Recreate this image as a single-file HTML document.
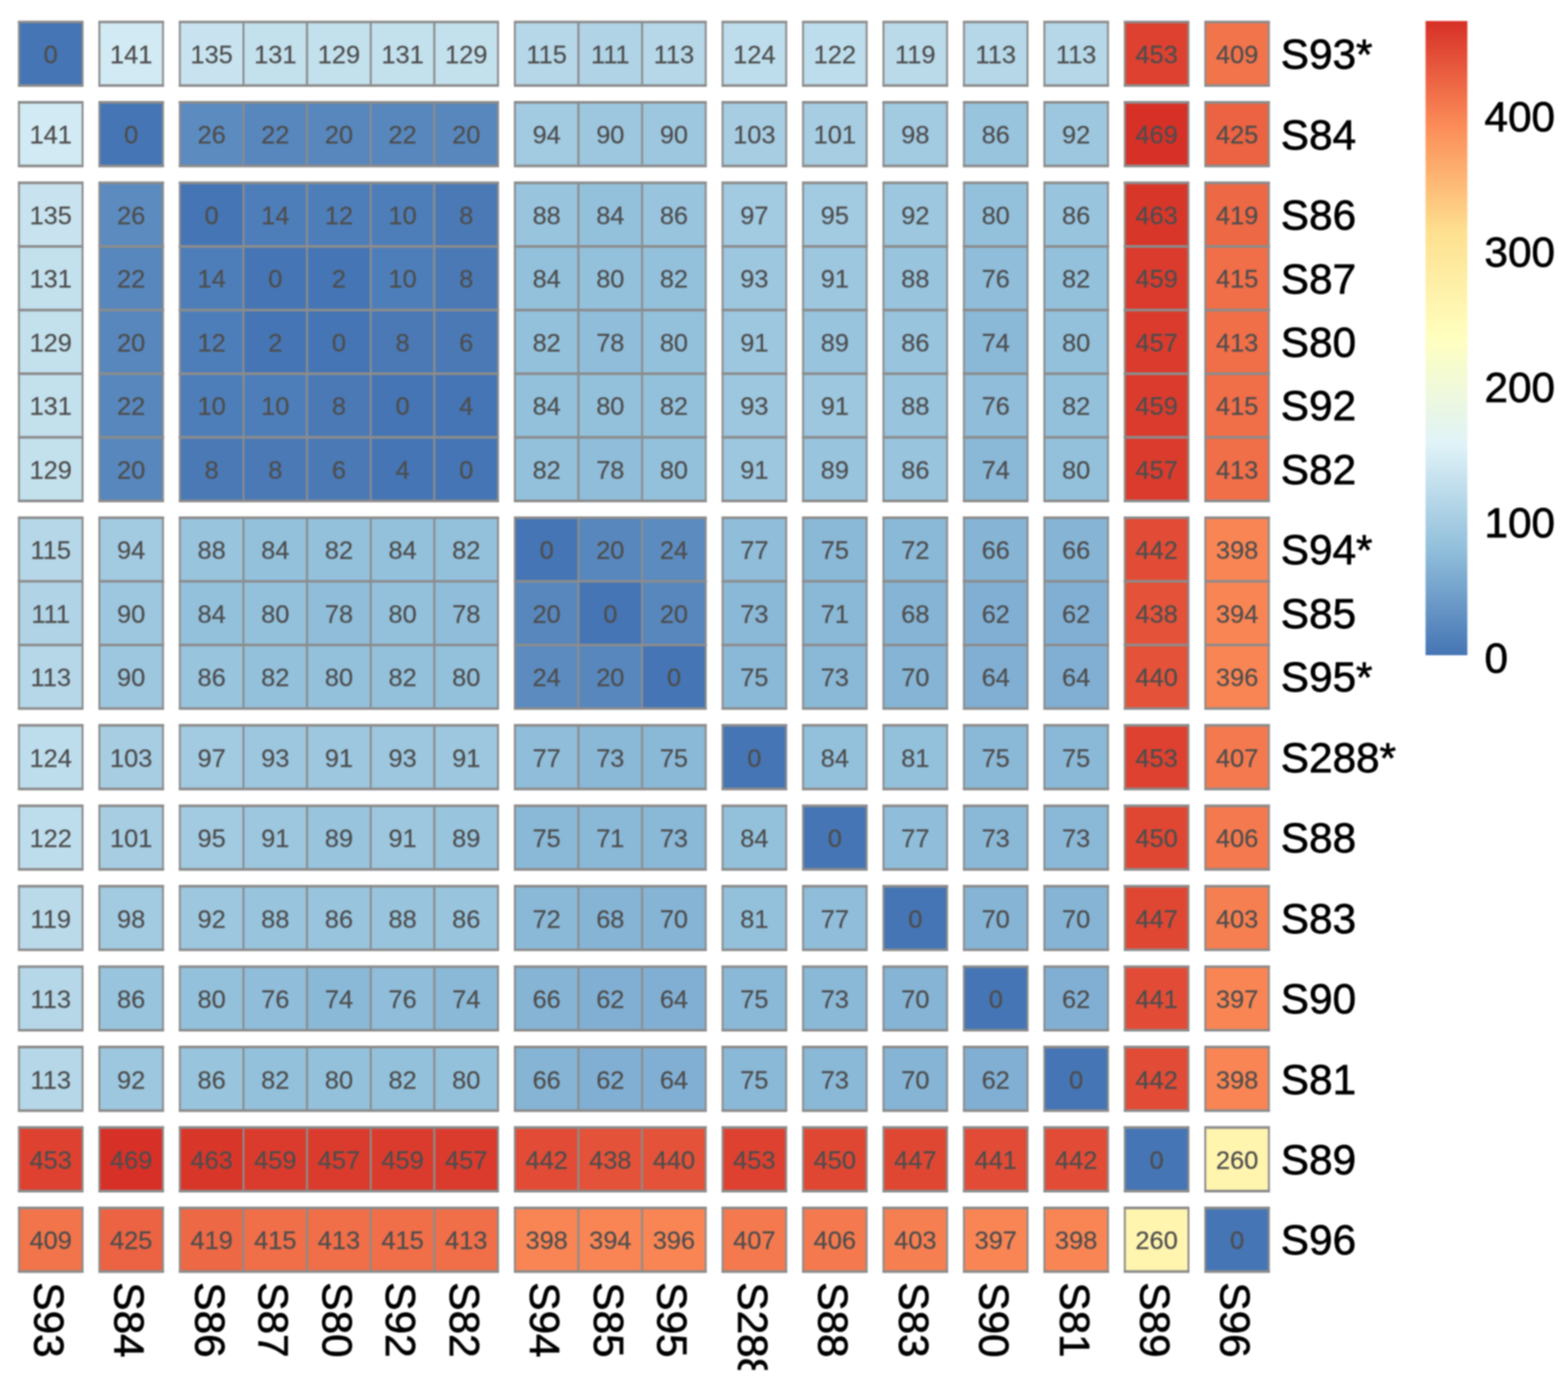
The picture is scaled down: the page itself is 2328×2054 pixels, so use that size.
<!DOCTYPE html>
<html lang="en"><head><meta charset="utf-8"><title>Heatmap</title>
<style>
html,body{margin:0;padding:0;background:#fff;}
body{width:2328px;height:2054px;overflow:hidden;}
svg{display:block;filter:blur(1px);}
text{font-family:"Liberation Sans",Arial,Helvetica,sans-serif;}
.n{font-size:37.7px;fill:#4d4d4d;stroke:#4d4d4d;stroke-width:0.3px;text-anchor:middle;}
.l{font-size:62.8px;fill:#000;stroke:#000;stroke-width:1px;}
.c rect{stroke:#8c8c8c;stroke-width:2.9;}
.h path{stroke:#8c8c8c;stroke-width:3.9;fill:none;}
</style></head>
<body>
<svg width="2328" height="2054" viewBox="0 0 2328 2054">
<defs><linearGradient id="lg" x1="0" y1="0" x2="0" y2="1"><stop offset="0.0000" stop-color="#D73027"/><stop offset="0.1667" stop-color="#FC8D59"/><stop offset="0.3333" stop-color="#FEE090"/><stop offset="0.5000" stop-color="#FFFFBF"/><stop offset="0.6667" stop-color="#E0F3F8"/><stop offset="0.8333" stop-color="#91BFDB"/><stop offset="1.0000" stop-color="#4575B4"/></linearGradient><clipPath id="cl"><rect x="0" y="1890" width="2328" height="144.6"/></clipPath></defs>
<rect x="0" y="0" width="2328" height="2054" fill="#fff"/>
<g class="c">
<rect x="28.10" y="32.60" width="94.49" height="94.49" fill="#4575b4"/><rect x="147.54" y="32.60" width="94.49" height="94.49" fill="#d2eaf3"/><rect x="266.98" y="32.60" width="94.49" height="94.49" fill="#c8e3ef"/><rect x="361.47" y="32.60" width="94.49" height="94.49" fill="#c3e0ed"/><rect x="455.96" y="32.60" width="94.49" height="94.49" fill="#c3e0ed"/><rect x="550.45" y="32.60" width="94.49" height="94.49" fill="#c3e0ed"/><rect x="644.94" y="32.60" width="94.49" height="94.49" fill="#c3e0ed"/><rect x="764.38" y="32.60" width="94.49" height="94.49" fill="#b5d7e8"/><rect x="858.87" y="32.60" width="94.49" height="94.49" fill="#b0d3e6"/><rect x="953.36" y="32.60" width="94.49" height="94.49" fill="#b5d7e8"/><rect x="1072.80" y="32.60" width="94.49" height="94.49" fill="#beddec"/><rect x="1192.24" y="32.60" width="94.49" height="94.49" fill="#beddec"/><rect x="1311.68" y="32.60" width="94.49" height="94.49" fill="#badaea"/><rect x="1431.12" y="32.60" width="94.49" height="94.49" fill="#b5d7e8"/><rect x="1550.56" y="32.60" width="94.49" height="94.49" fill="#b5d7e8"/><rect x="1670.00" y="32.60" width="94.49" height="94.49" fill="#de4130"/><rect x="1789.44" y="32.60" width="94.49" height="94.49" fill="#f2744b"/>
<rect x="28.10" y="152.04" width="94.49" height="94.49" fill="#d2eaf3"/><rect x="147.54" y="152.04" width="94.49" height="94.49" fill="#4575b4"/><rect x="266.98" y="152.04" width="94.49" height="94.49" fill="#5c8bc0"/><rect x="361.47" y="152.04" width="94.49" height="94.49" fill="#5787bd"/><rect x="455.96" y="152.04" width="94.49" height="94.49" fill="#5787bd"/><rect x="550.45" y="152.04" width="94.49" height="94.49" fill="#5787bd"/><rect x="644.94" y="152.04" width="94.49" height="94.49" fill="#5787bd"/><rect x="764.38" y="152.04" width="94.49" height="94.49" fill="#a2cae1"/><rect x="858.87" y="152.04" width="94.49" height="94.49" fill="#9dc7df"/><rect x="953.36" y="152.04" width="94.49" height="94.49" fill="#9dc7df"/><rect x="1072.80" y="152.04" width="94.49" height="94.49" fill="#a7cde3"/><rect x="1192.24" y="152.04" width="94.49" height="94.49" fill="#a7cde3"/><rect x="1311.68" y="152.04" width="94.49" height="94.49" fill="#a2cae1"/><rect x="1431.12" y="152.04" width="94.49" height="94.49" fill="#98c4de"/><rect x="1550.56" y="152.04" width="94.49" height="94.49" fill="#9dc7df"/><rect x="1670.00" y="152.04" width="94.49" height="94.49" fill="#d73027"/><rect x="1789.44" y="152.04" width="94.49" height="94.49" fill="#eb6342"/>
<rect x="28.10" y="271.48" width="94.49" height="94.49" fill="#c8e3ef"/><rect x="147.54" y="271.48" width="94.49" height="94.49" fill="#5c8bc0"/><rect x="266.98" y="271.48" width="94.49" height="94.49" fill="#4575b4"/><rect x="361.47" y="271.48" width="94.49" height="94.49" fill="#4e7eb9"/><rect x="455.96" y="271.48" width="94.49" height="94.49" fill="#4e7eb9"/><rect x="550.45" y="271.48" width="94.49" height="94.49" fill="#4e7eb9"/><rect x="644.94" y="271.48" width="94.49" height="94.49" fill="#4a79b6"/><rect x="764.38" y="271.48" width="94.49" height="94.49" fill="#98c4de"/><rect x="858.87" y="271.48" width="94.49" height="94.49" fill="#93c1dc"/><rect x="953.36" y="271.48" width="94.49" height="94.49" fill="#98c4de"/><rect x="1072.80" y="271.48" width="94.49" height="94.49" fill="#a2cae1"/><rect x="1192.24" y="271.48" width="94.49" height="94.49" fill="#a2cae1"/><rect x="1311.68" y="271.48" width="94.49" height="94.49" fill="#9dc7df"/><rect x="1431.12" y="271.48" width="94.49" height="94.49" fill="#93c1dc"/><rect x="1550.56" y="271.48" width="94.49" height="94.49" fill="#98c4de"/><rect x="1670.00" y="271.48" width="94.49" height="94.49" fill="#d9362a"/><rect x="1789.44" y="271.48" width="94.49" height="94.49" fill="#ed6845"/>
<rect x="28.10" y="365.97" width="94.49" height="94.49" fill="#c3e0ed"/><rect x="147.54" y="365.97" width="94.49" height="94.49" fill="#5787bd"/><rect x="266.98" y="365.97" width="94.49" height="94.49" fill="#4e7eb9"/><rect x="361.47" y="365.97" width="94.49" height="94.49" fill="#4575b4"/><rect x="455.96" y="365.97" width="94.49" height="94.49" fill="#4575b4"/><rect x="550.45" y="365.97" width="94.49" height="94.49" fill="#4e7eb9"/><rect x="644.94" y="365.97" width="94.49" height="94.49" fill="#4a79b6"/><rect x="764.38" y="365.97" width="94.49" height="94.49" fill="#93c1dc"/><rect x="858.87" y="365.97" width="94.49" height="94.49" fill="#93c1dc"/><rect x="953.36" y="365.97" width="94.49" height="94.49" fill="#93c1dc"/><rect x="1072.80" y="365.97" width="94.49" height="94.49" fill="#9dc7df"/><rect x="1192.24" y="365.97" width="94.49" height="94.49" fill="#9dc7df"/><rect x="1311.68" y="365.97" width="94.49" height="94.49" fill="#98c4de"/><rect x="1431.12" y="365.97" width="94.49" height="94.49" fill="#8fbdda"/><rect x="1550.56" y="365.97" width="94.49" height="94.49" fill="#93c1dc"/><rect x="1670.00" y="365.97" width="94.49" height="94.49" fill="#db3b2d"/><rect x="1789.44" y="365.97" width="94.49" height="94.49" fill="#f06e48"/>
<rect x="28.10" y="460.46" width="94.49" height="94.49" fill="#c3e0ed"/><rect x="147.54" y="460.46" width="94.49" height="94.49" fill="#5787bd"/><rect x="266.98" y="460.46" width="94.49" height="94.49" fill="#4e7eb9"/><rect x="361.47" y="460.46" width="94.49" height="94.49" fill="#4575b4"/><rect x="455.96" y="460.46" width="94.49" height="94.49" fill="#4575b4"/><rect x="550.45" y="460.46" width="94.49" height="94.49" fill="#4a79b6"/><rect x="644.94" y="460.46" width="94.49" height="94.49" fill="#4a79b6"/><rect x="764.38" y="460.46" width="94.49" height="94.49" fill="#93c1dc"/><rect x="858.87" y="460.46" width="94.49" height="94.49" fill="#8fbdda"/><rect x="953.36" y="460.46" width="94.49" height="94.49" fill="#93c1dc"/><rect x="1072.80" y="460.46" width="94.49" height="94.49" fill="#9dc7df"/><rect x="1192.24" y="460.46" width="94.49" height="94.49" fill="#98c4de"/><rect x="1311.68" y="460.46" width="94.49" height="94.49" fill="#98c4de"/><rect x="1431.12" y="460.46" width="94.49" height="94.49" fill="#8ab8d7"/><rect x="1550.56" y="460.46" width="94.49" height="94.49" fill="#93c1dc"/><rect x="1670.00" y="460.46" width="94.49" height="94.49" fill="#db3b2d"/><rect x="1789.44" y="460.46" width="94.49" height="94.49" fill="#f06e48"/>
<rect x="28.10" y="554.95" width="94.49" height="94.49" fill="#c3e0ed"/><rect x="147.54" y="554.95" width="94.49" height="94.49" fill="#5787bd"/><rect x="266.98" y="554.95" width="94.49" height="94.49" fill="#4e7eb9"/><rect x="361.47" y="554.95" width="94.49" height="94.49" fill="#4e7eb9"/><rect x="455.96" y="554.95" width="94.49" height="94.49" fill="#4a79b6"/><rect x="550.45" y="554.95" width="94.49" height="94.49" fill="#4575b4"/><rect x="644.94" y="554.95" width="94.49" height="94.49" fill="#4575b4"/><rect x="764.38" y="554.95" width="94.49" height="94.49" fill="#93c1dc"/><rect x="858.87" y="554.95" width="94.49" height="94.49" fill="#93c1dc"/><rect x="953.36" y="554.95" width="94.49" height="94.49" fill="#93c1dc"/><rect x="1072.80" y="554.95" width="94.49" height="94.49" fill="#9dc7df"/><rect x="1192.24" y="554.95" width="94.49" height="94.49" fill="#9dc7df"/><rect x="1311.68" y="554.95" width="94.49" height="94.49" fill="#98c4de"/><rect x="1431.12" y="554.95" width="94.49" height="94.49" fill="#8fbdda"/><rect x="1550.56" y="554.95" width="94.49" height="94.49" fill="#93c1dc"/><rect x="1670.00" y="554.95" width="94.49" height="94.49" fill="#db3b2d"/><rect x="1789.44" y="554.95" width="94.49" height="94.49" fill="#f06e48"/>
<rect x="28.10" y="649.44" width="94.49" height="94.49" fill="#c3e0ed"/><rect x="147.54" y="649.44" width="94.49" height="94.49" fill="#5787bd"/><rect x="266.98" y="649.44" width="94.49" height="94.49" fill="#4a79b6"/><rect x="361.47" y="649.44" width="94.49" height="94.49" fill="#4a79b6"/><rect x="455.96" y="649.44" width="94.49" height="94.49" fill="#4a79b6"/><rect x="550.45" y="649.44" width="94.49" height="94.49" fill="#4575b4"/><rect x="644.94" y="649.44" width="94.49" height="94.49" fill="#4575b4"/><rect x="764.38" y="649.44" width="94.49" height="94.49" fill="#93c1dc"/><rect x="858.87" y="649.44" width="94.49" height="94.49" fill="#8fbdda"/><rect x="953.36" y="649.44" width="94.49" height="94.49" fill="#93c1dc"/><rect x="1072.80" y="649.44" width="94.49" height="94.49" fill="#9dc7df"/><rect x="1192.24" y="649.44" width="94.49" height="94.49" fill="#98c4de"/><rect x="1311.68" y="649.44" width="94.49" height="94.49" fill="#98c4de"/><rect x="1431.12" y="649.44" width="94.49" height="94.49" fill="#8ab8d7"/><rect x="1550.56" y="649.44" width="94.49" height="94.49" fill="#93c1dc"/><rect x="1670.00" y="649.44" width="94.49" height="94.49" fill="#db3b2d"/><rect x="1789.44" y="649.44" width="94.49" height="94.49" fill="#f06e48"/>
<rect x="28.10" y="768.88" width="94.49" height="94.49" fill="#b5d7e8"/><rect x="147.54" y="768.88" width="94.49" height="94.49" fill="#a2cae1"/><rect x="266.98" y="768.88" width="94.49" height="94.49" fill="#98c4de"/><rect x="361.47" y="768.88" width="94.49" height="94.49" fill="#93c1dc"/><rect x="455.96" y="768.88" width="94.49" height="94.49" fill="#93c1dc"/><rect x="550.45" y="768.88" width="94.49" height="94.49" fill="#93c1dc"/><rect x="644.94" y="768.88" width="94.49" height="94.49" fill="#93c1dc"/><rect x="764.38" y="768.88" width="94.49" height="94.49" fill="#4575b4"/><rect x="858.87" y="768.88" width="94.49" height="94.49" fill="#5787bd"/><rect x="953.36" y="768.88" width="94.49" height="94.49" fill="#5c8bc0"/><rect x="1072.80" y="768.88" width="94.49" height="94.49" fill="#8fbdda"/><rect x="1192.24" y="768.88" width="94.49" height="94.49" fill="#8ab8d7"/><rect x="1311.68" y="768.88" width="94.49" height="94.49" fill="#8ab8d7"/><rect x="1431.12" y="768.88" width="94.49" height="94.49" fill="#85b4d5"/><rect x="1550.56" y="768.88" width="94.49" height="94.49" fill="#85b4d5"/><rect x="1670.00" y="768.88" width="94.49" height="94.49" fill="#e24c36"/><rect x="1789.44" y="768.88" width="94.49" height="94.49" fill="#f98554"/>
<rect x="28.10" y="863.37" width="94.49" height="94.49" fill="#b0d3e6"/><rect x="147.54" y="863.37" width="94.49" height="94.49" fill="#9dc7df"/><rect x="266.98" y="863.37" width="94.49" height="94.49" fill="#93c1dc"/><rect x="361.47" y="863.37" width="94.49" height="94.49" fill="#93c1dc"/><rect x="455.96" y="863.37" width="94.49" height="94.49" fill="#8fbdda"/><rect x="550.45" y="863.37" width="94.49" height="94.49" fill="#93c1dc"/><rect x="644.94" y="863.37" width="94.49" height="94.49" fill="#8fbdda"/><rect x="764.38" y="863.37" width="94.49" height="94.49" fill="#5787bd"/><rect x="858.87" y="863.37" width="94.49" height="94.49" fill="#4575b4"/><rect x="953.36" y="863.37" width="94.49" height="94.49" fill="#5787bd"/><rect x="1072.80" y="863.37" width="94.49" height="94.49" fill="#8ab8d7"/><rect x="1192.24" y="863.37" width="94.49" height="94.49" fill="#8ab8d7"/><rect x="1311.68" y="863.37" width="94.49" height="94.49" fill="#85b4d5"/><rect x="1431.12" y="863.37" width="94.49" height="94.49" fill="#81afd3"/><rect x="1550.56" y="863.37" width="94.49" height="94.49" fill="#81afd3"/><rect x="1670.00" y="863.37" width="94.49" height="94.49" fill="#e45239"/><rect x="1789.44" y="863.37" width="94.49" height="94.49" fill="#f98554"/>
<rect x="28.10" y="957.86" width="94.49" height="94.49" fill="#b5d7e8"/><rect x="147.54" y="957.86" width="94.49" height="94.49" fill="#9dc7df"/><rect x="266.98" y="957.86" width="94.49" height="94.49" fill="#98c4de"/><rect x="361.47" y="957.86" width="94.49" height="94.49" fill="#93c1dc"/><rect x="455.96" y="957.86" width="94.49" height="94.49" fill="#93c1dc"/><rect x="550.45" y="957.86" width="94.49" height="94.49" fill="#93c1dc"/><rect x="644.94" y="957.86" width="94.49" height="94.49" fill="#93c1dc"/><rect x="764.38" y="957.86" width="94.49" height="94.49" fill="#5c8bc0"/><rect x="858.87" y="957.86" width="94.49" height="94.49" fill="#5787bd"/><rect x="953.36" y="957.86" width="94.49" height="94.49" fill="#4575b4"/><rect x="1072.80" y="957.86" width="94.49" height="94.49" fill="#8ab8d7"/><rect x="1192.24" y="957.86" width="94.49" height="94.49" fill="#8ab8d7"/><rect x="1311.68" y="957.86" width="94.49" height="94.49" fill="#85b4d5"/><rect x="1431.12" y="957.86" width="94.49" height="94.49" fill="#81afd3"/><rect x="1550.56" y="957.86" width="94.49" height="94.49" fill="#81afd3"/><rect x="1670.00" y="957.86" width="94.49" height="94.49" fill="#e45239"/><rect x="1789.44" y="957.86" width="94.49" height="94.49" fill="#f98554"/>
<rect x="28.10" y="1077.30" width="94.49" height="94.49" fill="#beddec"/><rect x="147.54" y="1077.30" width="94.49" height="94.49" fill="#a7cde3"/><rect x="266.98" y="1077.30" width="94.49" height="94.49" fill="#a2cae1"/><rect x="361.47" y="1077.30" width="94.49" height="94.49" fill="#9dc7df"/><rect x="455.96" y="1077.30" width="94.49" height="94.49" fill="#9dc7df"/><rect x="550.45" y="1077.30" width="94.49" height="94.49" fill="#9dc7df"/><rect x="644.94" y="1077.30" width="94.49" height="94.49" fill="#9dc7df"/><rect x="764.38" y="1077.30" width="94.49" height="94.49" fill="#8fbdda"/><rect x="858.87" y="1077.30" width="94.49" height="94.49" fill="#8ab8d7"/><rect x="953.36" y="1077.30" width="94.49" height="94.49" fill="#8ab8d7"/><rect x="1072.80" y="1077.30" width="94.49" height="94.49" fill="#4575b4"/><rect x="1192.24" y="1077.30" width="94.49" height="94.49" fill="#93c1dc"/><rect x="1311.68" y="1077.30" width="94.49" height="94.49" fill="#93c1dc"/><rect x="1431.12" y="1077.30" width="94.49" height="94.49" fill="#8ab8d7"/><rect x="1550.56" y="1077.30" width="94.49" height="94.49" fill="#8ab8d7"/><rect x="1670.00" y="1077.30" width="94.49" height="94.49" fill="#de4130"/><rect x="1789.44" y="1077.30" width="94.49" height="94.49" fill="#f4794e"/>
<rect x="28.10" y="1196.74" width="94.49" height="94.49" fill="#beddec"/><rect x="147.54" y="1196.74" width="94.49" height="94.49" fill="#a7cde3"/><rect x="266.98" y="1196.74" width="94.49" height="94.49" fill="#a2cae1"/><rect x="361.47" y="1196.74" width="94.49" height="94.49" fill="#9dc7df"/><rect x="455.96" y="1196.74" width="94.49" height="94.49" fill="#98c4de"/><rect x="550.45" y="1196.74" width="94.49" height="94.49" fill="#9dc7df"/><rect x="644.94" y="1196.74" width="94.49" height="94.49" fill="#98c4de"/><rect x="764.38" y="1196.74" width="94.49" height="94.49" fill="#8ab8d7"/><rect x="858.87" y="1196.74" width="94.49" height="94.49" fill="#8ab8d7"/><rect x="953.36" y="1196.74" width="94.49" height="94.49" fill="#8ab8d7"/><rect x="1072.80" y="1196.74" width="94.49" height="94.49" fill="#93c1dc"/><rect x="1192.24" y="1196.74" width="94.49" height="94.49" fill="#4575b4"/><rect x="1311.68" y="1196.74" width="94.49" height="94.49" fill="#8fbdda"/><rect x="1431.12" y="1196.74" width="94.49" height="94.49" fill="#8ab8d7"/><rect x="1550.56" y="1196.74" width="94.49" height="94.49" fill="#8ab8d7"/><rect x="1670.00" y="1196.74" width="94.49" height="94.49" fill="#e04733"/><rect x="1789.44" y="1196.74" width="94.49" height="94.49" fill="#f4794e"/>
<rect x="28.10" y="1316.18" width="94.49" height="94.49" fill="#badaea"/><rect x="147.54" y="1316.18" width="94.49" height="94.49" fill="#a2cae1"/><rect x="266.98" y="1316.18" width="94.49" height="94.49" fill="#9dc7df"/><rect x="361.47" y="1316.18" width="94.49" height="94.49" fill="#98c4de"/><rect x="455.96" y="1316.18" width="94.49" height="94.49" fill="#98c4de"/><rect x="550.45" y="1316.18" width="94.49" height="94.49" fill="#98c4de"/><rect x="644.94" y="1316.18" width="94.49" height="94.49" fill="#98c4de"/><rect x="764.38" y="1316.18" width="94.49" height="94.49" fill="#8ab8d7"/><rect x="858.87" y="1316.18" width="94.49" height="94.49" fill="#85b4d5"/><rect x="953.36" y="1316.18" width="94.49" height="94.49" fill="#85b4d5"/><rect x="1072.80" y="1316.18" width="94.49" height="94.49" fill="#93c1dc"/><rect x="1192.24" y="1316.18" width="94.49" height="94.49" fill="#8fbdda"/><rect x="1311.68" y="1316.18" width="94.49" height="94.49" fill="#4575b4"/><rect x="1431.12" y="1316.18" width="94.49" height="94.49" fill="#85b4d5"/><rect x="1550.56" y="1316.18" width="94.49" height="94.49" fill="#85b4d5"/><rect x="1670.00" y="1316.18" width="94.49" height="94.49" fill="#e04733"/><rect x="1789.44" y="1316.18" width="94.49" height="94.49" fill="#f67f51"/>
<rect x="28.10" y="1435.62" width="94.49" height="94.49" fill="#b5d7e8"/><rect x="147.54" y="1435.62" width="94.49" height="94.49" fill="#98c4de"/><rect x="266.98" y="1435.62" width="94.49" height="94.49" fill="#93c1dc"/><rect x="361.47" y="1435.62" width="94.49" height="94.49" fill="#8fbdda"/><rect x="455.96" y="1435.62" width="94.49" height="94.49" fill="#8ab8d7"/><rect x="550.45" y="1435.62" width="94.49" height="94.49" fill="#8fbdda"/><rect x="644.94" y="1435.62" width="94.49" height="94.49" fill="#8ab8d7"/><rect x="764.38" y="1435.62" width="94.49" height="94.49" fill="#85b4d5"/><rect x="858.87" y="1435.62" width="94.49" height="94.49" fill="#81afd3"/><rect x="953.36" y="1435.62" width="94.49" height="94.49" fill="#81afd3"/><rect x="1072.80" y="1435.62" width="94.49" height="94.49" fill="#8ab8d7"/><rect x="1192.24" y="1435.62" width="94.49" height="94.49" fill="#8ab8d7"/><rect x="1311.68" y="1435.62" width="94.49" height="94.49" fill="#85b4d5"/><rect x="1431.12" y="1435.62" width="94.49" height="94.49" fill="#4575b4"/><rect x="1550.56" y="1435.62" width="94.49" height="94.49" fill="#81afd3"/><rect x="1670.00" y="1435.62" width="94.49" height="94.49" fill="#e24c36"/><rect x="1789.44" y="1435.62" width="94.49" height="94.49" fill="#f98554"/>
<rect x="28.10" y="1555.06" width="94.49" height="94.49" fill="#b5d7e8"/><rect x="147.54" y="1555.06" width="94.49" height="94.49" fill="#9dc7df"/><rect x="266.98" y="1555.06" width="94.49" height="94.49" fill="#98c4de"/><rect x="361.47" y="1555.06" width="94.49" height="94.49" fill="#93c1dc"/><rect x="455.96" y="1555.06" width="94.49" height="94.49" fill="#93c1dc"/><rect x="550.45" y="1555.06" width="94.49" height="94.49" fill="#93c1dc"/><rect x="644.94" y="1555.06" width="94.49" height="94.49" fill="#93c1dc"/><rect x="764.38" y="1555.06" width="94.49" height="94.49" fill="#85b4d5"/><rect x="858.87" y="1555.06" width="94.49" height="94.49" fill="#81afd3"/><rect x="953.36" y="1555.06" width="94.49" height="94.49" fill="#81afd3"/><rect x="1072.80" y="1555.06" width="94.49" height="94.49" fill="#8ab8d7"/><rect x="1192.24" y="1555.06" width="94.49" height="94.49" fill="#8ab8d7"/><rect x="1311.68" y="1555.06" width="94.49" height="94.49" fill="#85b4d5"/><rect x="1431.12" y="1555.06" width="94.49" height="94.49" fill="#81afd3"/><rect x="1550.56" y="1555.06" width="94.49" height="94.49" fill="#4575b4"/><rect x="1670.00" y="1555.06" width="94.49" height="94.49" fill="#e24c36"/><rect x="1789.44" y="1555.06" width="94.49" height="94.49" fill="#f98554"/>
<rect x="28.10" y="1674.50" width="94.49" height="94.49" fill="#de4130"/><rect x="147.54" y="1674.50" width="94.49" height="94.49" fill="#d73027"/><rect x="266.98" y="1674.50" width="94.49" height="94.49" fill="#d9362a"/><rect x="361.47" y="1674.50" width="94.49" height="94.49" fill="#db3b2d"/><rect x="455.96" y="1674.50" width="94.49" height="94.49" fill="#db3b2d"/><rect x="550.45" y="1674.50" width="94.49" height="94.49" fill="#db3b2d"/><rect x="644.94" y="1674.50" width="94.49" height="94.49" fill="#db3b2d"/><rect x="764.38" y="1674.50" width="94.49" height="94.49" fill="#e24c36"/><rect x="858.87" y="1674.50" width="94.49" height="94.49" fill="#e45239"/><rect x="953.36" y="1674.50" width="94.49" height="94.49" fill="#e45239"/><rect x="1072.80" y="1674.50" width="94.49" height="94.49" fill="#de4130"/><rect x="1192.24" y="1674.50" width="94.49" height="94.49" fill="#e04733"/><rect x="1311.68" y="1674.50" width="94.49" height="94.49" fill="#e04733"/><rect x="1431.12" y="1674.50" width="94.49" height="94.49" fill="#e24c36"/><rect x="1550.56" y="1674.50" width="94.49" height="94.49" fill="#e24c36"/><rect x="1670.00" y="1674.50" width="94.49" height="94.49" fill="#4575b4"/><rect x="1789.44" y="1674.50" width="94.49" height="94.49" fill="#fff5af"/>
<rect x="28.10" y="1793.94" width="94.49" height="94.49" fill="#f2744b"/><rect x="147.54" y="1793.94" width="94.49" height="94.49" fill="#eb6342"/><rect x="266.98" y="1793.94" width="94.49" height="94.49" fill="#ed6845"/><rect x="361.47" y="1793.94" width="94.49" height="94.49" fill="#f06e48"/><rect x="455.96" y="1793.94" width="94.49" height="94.49" fill="#f06e48"/><rect x="550.45" y="1793.94" width="94.49" height="94.49" fill="#f06e48"/><rect x="644.94" y="1793.94" width="94.49" height="94.49" fill="#f06e48"/><rect x="764.38" y="1793.94" width="94.49" height="94.49" fill="#f98554"/><rect x="858.87" y="1793.94" width="94.49" height="94.49" fill="#f98554"/><rect x="953.36" y="1793.94" width="94.49" height="94.49" fill="#f98554"/><rect x="1072.80" y="1793.94" width="94.49" height="94.49" fill="#f4794e"/><rect x="1192.24" y="1793.94" width="94.49" height="94.49" fill="#f4794e"/><rect x="1311.68" y="1793.94" width="94.49" height="94.49" fill="#f67f51"/><rect x="1431.12" y="1793.94" width="94.49" height="94.49" fill="#f98554"/><rect x="1550.56" y="1793.94" width="94.49" height="94.49" fill="#f98554"/><rect x="1670.00" y="1793.94" width="94.49" height="94.49" fill="#fff5af"/><rect x="1789.44" y="1793.94" width="94.49" height="94.49" fill="#4575b4"/>
</g>
<g class="h">
<path d="M26.65 32.60H124.04M26.65 127.09H124.04M146.09 32.60H243.48M146.09 127.09H243.48M265.53 32.60H740.88M265.53 127.09H740.88M762.93 32.60H1049.30M762.93 127.09H1049.30M1071.35 32.60H1168.74M1071.35 127.09H1168.74M1190.79 32.60H1288.18M1190.79 127.09H1288.18M1310.23 32.60H1407.62M1310.23 127.09H1407.62M1429.67 32.60H1527.06M1429.67 127.09H1527.06M1549.11 32.60H1646.50M1549.11 127.09H1646.50M1668.55 32.60H1765.94M1668.55 127.09H1765.94M1787.99 32.60H1885.38M1787.99 127.09H1885.38M26.65 152.04H124.04M26.65 246.53H124.04M146.09 152.04H243.48M146.09 246.53H243.48M265.53 152.04H740.88M265.53 246.53H740.88M762.93 152.04H1049.30M762.93 246.53H1049.30M1071.35 152.04H1168.74M1071.35 246.53H1168.74M1190.79 152.04H1288.18M1190.79 246.53H1288.18M1310.23 152.04H1407.62M1310.23 246.53H1407.62M1429.67 152.04H1527.06M1429.67 246.53H1527.06M1549.11 152.04H1646.50M1549.11 246.53H1646.50M1668.55 152.04H1765.94M1668.55 246.53H1765.94M1787.99 152.04H1885.38M1787.99 246.53H1885.38M26.65 271.48H124.04M26.65 365.97H124.04M26.65 460.46H124.04M26.65 554.95H124.04M26.65 649.44H124.04M26.65 743.93H124.04M146.09 271.48H243.48M146.09 365.97H243.48M146.09 460.46H243.48M146.09 554.95H243.48M146.09 649.44H243.48M146.09 743.93H243.48M265.53 271.48H740.88M265.53 365.97H740.88M265.53 460.46H740.88M265.53 554.95H740.88M265.53 649.44H740.88M265.53 743.93H740.88M762.93 271.48H1049.30M762.93 365.97H1049.30M762.93 460.46H1049.30M762.93 554.95H1049.30M762.93 649.44H1049.30M762.93 743.93H1049.30M1071.35 271.48H1168.74M1071.35 365.97H1168.74M1071.35 460.46H1168.74M1071.35 554.95H1168.74M1071.35 649.44H1168.74M1071.35 743.93H1168.74M1190.79 271.48H1288.18M1190.79 365.97H1288.18M1190.79 460.46H1288.18M1190.79 554.95H1288.18M1190.79 649.44H1288.18M1190.79 743.93H1288.18M1310.23 271.48H1407.62M1310.23 365.97H1407.62M1310.23 460.46H1407.62M1310.23 554.95H1407.62M1310.23 649.44H1407.62M1310.23 743.93H1407.62M1429.67 271.48H1527.06M1429.67 365.97H1527.06M1429.67 460.46H1527.06M1429.67 554.95H1527.06M1429.67 649.44H1527.06M1429.67 743.93H1527.06M1549.11 271.48H1646.50M1549.11 365.97H1646.50M1549.11 460.46H1646.50M1549.11 554.95H1646.50M1549.11 649.44H1646.50M1549.11 743.93H1646.50M1668.55 271.48H1765.94M1668.55 365.97H1765.94M1668.55 460.46H1765.94M1668.55 554.95H1765.94M1668.55 649.44H1765.94M1668.55 743.93H1765.94M1787.99 271.48H1885.38M1787.99 365.97H1885.38M1787.99 460.46H1885.38M1787.99 554.95H1885.38M1787.99 649.44H1885.38M1787.99 743.93H1885.38M26.65 768.88H124.04M26.65 863.37H124.04M26.65 957.86H124.04M26.65 1052.35H124.04M146.09 768.88H243.48M146.09 863.37H243.48M146.09 957.86H243.48M146.09 1052.35H243.48M265.53 768.88H740.88M265.53 863.37H740.88M265.53 957.86H740.88M265.53 1052.35H740.88M762.93 768.88H1049.30M762.93 863.37H1049.30M762.93 957.86H1049.30M762.93 1052.35H1049.30M1071.35 768.88H1168.74M1071.35 863.37H1168.74M1071.35 957.86H1168.74M1071.35 1052.35H1168.74M1190.79 768.88H1288.18M1190.79 863.37H1288.18M1190.79 957.86H1288.18M1190.79 1052.35H1288.18M1310.23 768.88H1407.62M1310.23 863.37H1407.62M1310.23 957.86H1407.62M1310.23 1052.35H1407.62M1429.67 768.88H1527.06M1429.67 863.37H1527.06M1429.67 957.86H1527.06M1429.67 1052.35H1527.06M1549.11 768.88H1646.50M1549.11 863.37H1646.50M1549.11 957.86H1646.50M1549.11 1052.35H1646.50M1668.55 768.88H1765.94M1668.55 863.37H1765.94M1668.55 957.86H1765.94M1668.55 1052.35H1765.94M1787.99 768.88H1885.38M1787.99 863.37H1885.38M1787.99 957.86H1885.38M1787.99 1052.35H1885.38M26.65 1077.30H124.04M26.65 1171.79H124.04M146.09 1077.30H243.48M146.09 1171.79H243.48M265.53 1077.30H740.88M265.53 1171.79H740.88M762.93 1077.30H1049.30M762.93 1171.79H1049.30M1071.35 1077.30H1168.74M1071.35 1171.79H1168.74M1190.79 1077.30H1288.18M1190.79 1171.79H1288.18M1310.23 1077.30H1407.62M1310.23 1171.79H1407.62M1429.67 1077.30H1527.06M1429.67 1171.79H1527.06M1549.11 1077.30H1646.50M1549.11 1171.79H1646.50M1668.55 1077.30H1765.94M1668.55 1171.79H1765.94M1787.99 1077.30H1885.38M1787.99 1171.79H1885.38M26.65 1196.74H124.04M26.65 1291.23H124.04M146.09 1196.74H243.48M146.09 1291.23H243.48M265.53 1196.74H740.88M265.53 1291.23H740.88M762.93 1196.74H1049.30M762.93 1291.23H1049.30M1071.35 1196.74H1168.74M1071.35 1291.23H1168.74M1190.79 1196.74H1288.18M1190.79 1291.23H1288.18M1310.23 1196.74H1407.62M1310.23 1291.23H1407.62M1429.67 1196.74H1527.06M1429.67 1291.23H1527.06M1549.11 1196.74H1646.50M1549.11 1291.23H1646.50M1668.55 1196.74H1765.94M1668.55 1291.23H1765.94M1787.99 1196.74H1885.38M1787.99 1291.23H1885.38M26.65 1316.18H124.04M26.65 1410.67H124.04M146.09 1316.18H243.48M146.09 1410.67H243.48M265.53 1316.18H740.88M265.53 1410.67H740.88M762.93 1316.18H1049.30M762.93 1410.67H1049.30M1071.35 1316.18H1168.74M1071.35 1410.67H1168.74M1190.79 1316.18H1288.18M1190.79 1410.67H1288.18M1310.23 1316.18H1407.62M1310.23 1410.67H1407.62M1429.67 1316.18H1527.06M1429.67 1410.67H1527.06M1549.11 1316.18H1646.50M1549.11 1410.67H1646.50M1668.55 1316.18H1765.94M1668.55 1410.67H1765.94M1787.99 1316.18H1885.38M1787.99 1410.67H1885.38M26.65 1435.62H124.04M26.65 1530.11H124.04M146.09 1435.62H243.48M146.09 1530.11H243.48M265.53 1435.62H740.88M265.53 1530.11H740.88M762.93 1435.62H1049.30M762.93 1530.11H1049.30M1071.35 1435.62H1168.74M1071.35 1530.11H1168.74M1190.79 1435.62H1288.18M1190.79 1530.11H1288.18M1310.23 1435.62H1407.62M1310.23 1530.11H1407.62M1429.67 1435.62H1527.06M1429.67 1530.11H1527.06M1549.11 1435.62H1646.50M1549.11 1530.11H1646.50M1668.55 1435.62H1765.94M1668.55 1530.11H1765.94M1787.99 1435.62H1885.38M1787.99 1530.11H1885.38M26.65 1555.06H124.04M26.65 1649.55H124.04M146.09 1555.06H243.48M146.09 1649.55H243.48M265.53 1555.06H740.88M265.53 1649.55H740.88M762.93 1555.06H1049.30M762.93 1649.55H1049.30M1071.35 1555.06H1168.74M1071.35 1649.55H1168.74M1190.79 1555.06H1288.18M1190.79 1649.55H1288.18M1310.23 1555.06H1407.62M1310.23 1649.55H1407.62M1429.67 1555.06H1527.06M1429.67 1649.55H1527.06M1549.11 1555.06H1646.50M1549.11 1649.55H1646.50M1668.55 1555.06H1765.94M1668.55 1649.55H1765.94M1787.99 1555.06H1885.38M1787.99 1649.55H1885.38M26.65 1674.50H124.04M26.65 1768.99H124.04M146.09 1674.50H243.48M146.09 1768.99H243.48M265.53 1674.50H740.88M265.53 1768.99H740.88M762.93 1674.50H1049.30M762.93 1768.99H1049.30M1071.35 1674.50H1168.74M1071.35 1768.99H1168.74M1190.79 1674.50H1288.18M1190.79 1768.99H1288.18M1310.23 1674.50H1407.62M1310.23 1768.99H1407.62M1429.67 1674.50H1527.06M1429.67 1768.99H1527.06M1549.11 1674.50H1646.50M1549.11 1768.99H1646.50M1668.55 1674.50H1765.94M1668.55 1768.99H1765.94M1787.99 1674.50H1885.38M1787.99 1768.99H1885.38M26.65 1793.94H124.04M26.65 1888.43H124.04M146.09 1793.94H243.48M146.09 1888.43H243.48M265.53 1793.94H740.88M265.53 1888.43H740.88M762.93 1793.94H1049.30M762.93 1888.43H1049.30M1071.35 1793.94H1168.74M1071.35 1888.43H1168.74M1190.79 1793.94H1288.18M1190.79 1888.43H1288.18M1310.23 1793.94H1407.62M1310.23 1888.43H1407.62M1429.67 1793.94H1527.06M1429.67 1888.43H1527.06M1549.11 1793.94H1646.50M1549.11 1888.43H1646.50M1668.55 1793.94H1765.94M1668.55 1888.43H1765.94M1787.99 1793.94H1885.38M1787.99 1888.43H1885.38"/>
</g>
<g class="n">
<text x="75.34" y="94.04">0</text><text x="194.78" y="94.04">141</text><text x="314.22" y="94.04">135</text><text x="408.71" y="94.04">131</text><text x="503.20" y="94.04">129</text><text x="597.69" y="94.04">131</text><text x="692.18" y="94.04">129</text><text x="811.62" y="94.04">115</text><text x="906.12" y="94.04">111</text><text x="1000.61" y="94.04">113</text><text x="1120.04" y="94.04">124</text><text x="1239.48" y="94.04">122</text><text x="1358.92" y="94.04">119</text><text x="1478.37" y="94.04">113</text><text x="1597.81" y="94.04">113</text><text x="1717.25" y="94.04">453</text><text x="1836.69" y="94.04">409</text>
<text x="75.34" y="213.48">141</text><text x="194.78" y="213.48">0</text><text x="314.22" y="213.48">26</text><text x="408.71" y="213.48">22</text><text x="503.20" y="213.48">20</text><text x="597.69" y="213.48">22</text><text x="692.18" y="213.48">20</text><text x="811.62" y="213.48">94</text><text x="906.12" y="213.48">90</text><text x="1000.61" y="213.48">90</text><text x="1120.04" y="213.48">103</text><text x="1239.48" y="213.48">101</text><text x="1358.92" y="213.48">98</text><text x="1478.37" y="213.48">86</text><text x="1597.81" y="213.48">92</text><text x="1717.25" y="213.48">469</text><text x="1836.69" y="213.48">425</text>
<text x="75.34" y="332.92">135</text><text x="194.78" y="332.92">26</text><text x="314.22" y="332.92">0</text><text x="408.71" y="332.92">14</text><text x="503.20" y="332.92">12</text><text x="597.69" y="332.92">10</text><text x="692.18" y="332.92">8</text><text x="811.62" y="332.92">88</text><text x="906.12" y="332.92">84</text><text x="1000.61" y="332.92">86</text><text x="1120.04" y="332.92">97</text><text x="1239.48" y="332.92">95</text><text x="1358.92" y="332.92">92</text><text x="1478.37" y="332.92">80</text><text x="1597.81" y="332.92">86</text><text x="1717.25" y="332.92">463</text><text x="1836.69" y="332.92">419</text>
<text x="75.34" y="427.41">131</text><text x="194.78" y="427.41">22</text><text x="314.22" y="427.41">14</text><text x="408.71" y="427.41">0</text><text x="503.20" y="427.41">2</text><text x="597.69" y="427.41">10</text><text x="692.18" y="427.41">8</text><text x="811.62" y="427.41">84</text><text x="906.12" y="427.41">80</text><text x="1000.61" y="427.41">82</text><text x="1120.04" y="427.41">93</text><text x="1239.48" y="427.41">91</text><text x="1358.92" y="427.41">88</text><text x="1478.37" y="427.41">76</text><text x="1597.81" y="427.41">82</text><text x="1717.25" y="427.41">459</text><text x="1836.69" y="427.41">415</text>
<text x="75.34" y="521.90">129</text><text x="194.78" y="521.90">20</text><text x="314.22" y="521.90">12</text><text x="408.71" y="521.90">2</text><text x="503.20" y="521.90">0</text><text x="597.69" y="521.90">8</text><text x="692.18" y="521.90">6</text><text x="811.62" y="521.90">82</text><text x="906.12" y="521.90">78</text><text x="1000.61" y="521.90">80</text><text x="1120.04" y="521.90">91</text><text x="1239.48" y="521.90">89</text><text x="1358.92" y="521.90">86</text><text x="1478.37" y="521.90">74</text><text x="1597.81" y="521.90">80</text><text x="1717.25" y="521.90">457</text><text x="1836.69" y="521.90">413</text>
<text x="75.34" y="616.39">131</text><text x="194.78" y="616.39">22</text><text x="314.22" y="616.39">10</text><text x="408.71" y="616.39">10</text><text x="503.20" y="616.39">8</text><text x="597.69" y="616.39">0</text><text x="692.18" y="616.39">4</text><text x="811.62" y="616.39">84</text><text x="906.12" y="616.39">80</text><text x="1000.61" y="616.39">82</text><text x="1120.04" y="616.39">93</text><text x="1239.48" y="616.39">91</text><text x="1358.92" y="616.39">88</text><text x="1478.37" y="616.39">76</text><text x="1597.81" y="616.39">82</text><text x="1717.25" y="616.39">459</text><text x="1836.69" y="616.39">415</text>
<text x="75.34" y="710.88">129</text><text x="194.78" y="710.88">20</text><text x="314.22" y="710.88">8</text><text x="408.71" y="710.88">8</text><text x="503.20" y="710.88">6</text><text x="597.69" y="710.88">4</text><text x="692.18" y="710.88">0</text><text x="811.62" y="710.88">82</text><text x="906.12" y="710.88">78</text><text x="1000.61" y="710.88">80</text><text x="1120.04" y="710.88">91</text><text x="1239.48" y="710.88">89</text><text x="1358.92" y="710.88">86</text><text x="1478.37" y="710.88">74</text><text x="1597.81" y="710.88">80</text><text x="1717.25" y="710.88">457</text><text x="1836.69" y="710.88">413</text>
<text x="75.34" y="830.32">115</text><text x="194.78" y="830.32">94</text><text x="314.22" y="830.32">88</text><text x="408.71" y="830.32">84</text><text x="503.20" y="830.32">82</text><text x="597.69" y="830.32">84</text><text x="692.18" y="830.32">82</text><text x="811.62" y="830.32">0</text><text x="906.12" y="830.32">20</text><text x="1000.61" y="830.32">24</text><text x="1120.04" y="830.32">77</text><text x="1239.48" y="830.32">75</text><text x="1358.92" y="830.32">72</text><text x="1478.37" y="830.32">66</text><text x="1597.81" y="830.32">66</text><text x="1717.25" y="830.32">442</text><text x="1836.69" y="830.32">398</text>
<text x="75.34" y="924.81">111</text><text x="194.78" y="924.81">90</text><text x="314.22" y="924.81">84</text><text x="408.71" y="924.81">80</text><text x="503.20" y="924.81">78</text><text x="597.69" y="924.81">80</text><text x="692.18" y="924.81">78</text><text x="811.62" y="924.81">20</text><text x="906.12" y="924.81">0</text><text x="1000.61" y="924.81">20</text><text x="1120.04" y="924.81">73</text><text x="1239.48" y="924.81">71</text><text x="1358.92" y="924.81">68</text><text x="1478.37" y="924.81">62</text><text x="1597.81" y="924.81">62</text><text x="1717.25" y="924.81">438</text><text x="1836.69" y="924.81">394</text>
<text x="75.34" y="1019.30">113</text><text x="194.78" y="1019.30">90</text><text x="314.22" y="1019.30">86</text><text x="408.71" y="1019.30">82</text><text x="503.20" y="1019.30">80</text><text x="597.69" y="1019.30">82</text><text x="692.18" y="1019.30">80</text><text x="811.62" y="1019.30">24</text><text x="906.12" y="1019.30">20</text><text x="1000.61" y="1019.30">0</text><text x="1120.04" y="1019.30">75</text><text x="1239.48" y="1019.30">73</text><text x="1358.92" y="1019.30">70</text><text x="1478.37" y="1019.30">64</text><text x="1597.81" y="1019.30">64</text><text x="1717.25" y="1019.30">440</text><text x="1836.69" y="1019.30">396</text>
<text x="75.34" y="1138.74">124</text><text x="194.78" y="1138.74">103</text><text x="314.22" y="1138.74">97</text><text x="408.71" y="1138.74">93</text><text x="503.20" y="1138.74">91</text><text x="597.69" y="1138.74">93</text><text x="692.18" y="1138.74">91</text><text x="811.62" y="1138.74">77</text><text x="906.12" y="1138.74">73</text><text x="1000.61" y="1138.74">75</text><text x="1120.04" y="1138.74">0</text><text x="1239.48" y="1138.74">84</text><text x="1358.92" y="1138.74">81</text><text x="1478.37" y="1138.74">75</text><text x="1597.81" y="1138.74">75</text><text x="1717.25" y="1138.74">453</text><text x="1836.69" y="1138.74">407</text>
<text x="75.34" y="1258.18">122</text><text x="194.78" y="1258.18">101</text><text x="314.22" y="1258.18">95</text><text x="408.71" y="1258.18">91</text><text x="503.20" y="1258.18">89</text><text x="597.69" y="1258.18">91</text><text x="692.18" y="1258.18">89</text><text x="811.62" y="1258.18">75</text><text x="906.12" y="1258.18">71</text><text x="1000.61" y="1258.18">73</text><text x="1120.04" y="1258.18">84</text><text x="1239.48" y="1258.18">0</text><text x="1358.92" y="1258.18">77</text><text x="1478.37" y="1258.18">73</text><text x="1597.81" y="1258.18">73</text><text x="1717.25" y="1258.18">450</text><text x="1836.69" y="1258.18">406</text>
<text x="75.34" y="1377.62">119</text><text x="194.78" y="1377.62">98</text><text x="314.22" y="1377.62">92</text><text x="408.71" y="1377.62">88</text><text x="503.20" y="1377.62">86</text><text x="597.69" y="1377.62">88</text><text x="692.18" y="1377.62">86</text><text x="811.62" y="1377.62">72</text><text x="906.12" y="1377.62">68</text><text x="1000.61" y="1377.62">70</text><text x="1120.04" y="1377.62">81</text><text x="1239.48" y="1377.62">77</text><text x="1358.92" y="1377.62">0</text><text x="1478.37" y="1377.62">70</text><text x="1597.81" y="1377.62">70</text><text x="1717.25" y="1377.62">447</text><text x="1836.69" y="1377.62">403</text>
<text x="75.34" y="1497.06">113</text><text x="194.78" y="1497.06">86</text><text x="314.22" y="1497.06">80</text><text x="408.71" y="1497.06">76</text><text x="503.20" y="1497.06">74</text><text x="597.69" y="1497.06">76</text><text x="692.18" y="1497.06">74</text><text x="811.62" y="1497.06">66</text><text x="906.12" y="1497.06">62</text><text x="1000.61" y="1497.06">64</text><text x="1120.04" y="1497.06">75</text><text x="1239.48" y="1497.06">73</text><text x="1358.92" y="1497.06">70</text><text x="1478.37" y="1497.06">0</text><text x="1597.81" y="1497.06">62</text><text x="1717.25" y="1497.06">441</text><text x="1836.69" y="1497.06">397</text>
<text x="75.34" y="1616.50">113</text><text x="194.78" y="1616.50">92</text><text x="314.22" y="1616.50">86</text><text x="408.71" y="1616.50">82</text><text x="503.20" y="1616.50">80</text><text x="597.69" y="1616.50">82</text><text x="692.18" y="1616.50">80</text><text x="811.62" y="1616.50">66</text><text x="906.12" y="1616.50">62</text><text x="1000.61" y="1616.50">64</text><text x="1120.04" y="1616.50">75</text><text x="1239.48" y="1616.50">73</text><text x="1358.92" y="1616.50">70</text><text x="1478.37" y="1616.50">62</text><text x="1597.81" y="1616.50">0</text><text x="1717.25" y="1616.50">442</text><text x="1836.69" y="1616.50">398</text>
<text x="75.34" y="1735.94">453</text><text x="194.78" y="1735.94">469</text><text x="314.22" y="1735.94">463</text><text x="408.71" y="1735.94">459</text><text x="503.20" y="1735.94">457</text><text x="597.69" y="1735.94">459</text><text x="692.18" y="1735.94">457</text><text x="811.62" y="1735.94">442</text><text x="906.12" y="1735.94">438</text><text x="1000.61" y="1735.94">440</text><text x="1120.04" y="1735.94">453</text><text x="1239.48" y="1735.94">450</text><text x="1358.92" y="1735.94">447</text><text x="1478.37" y="1735.94">441</text><text x="1597.81" y="1735.94">442</text><text x="1717.25" y="1735.94">0</text><text x="1836.69" y="1735.94">260</text>
<text x="75.34" y="1855.38">409</text><text x="194.78" y="1855.38">425</text><text x="314.22" y="1855.38">419</text><text x="408.71" y="1855.38">415</text><text x="503.20" y="1855.38">413</text><text x="597.69" y="1855.38">415</text><text x="692.18" y="1855.38">413</text><text x="811.62" y="1855.38">398</text><text x="906.12" y="1855.38">394</text><text x="1000.61" y="1855.38">396</text><text x="1120.04" y="1855.38">407</text><text x="1239.48" y="1855.38">406</text><text x="1358.92" y="1855.38">403</text><text x="1478.37" y="1855.38">397</text><text x="1597.81" y="1855.38">398</text><text x="1717.25" y="1855.38">260</text><text x="1836.69" y="1855.38">0</text>
</g>
<g class="l">
<text x="1901.60" y="102.14">S93*</text>
<text x="1901.60" y="221.59">S84</text>
<text x="1901.60" y="341.02">S86</text>
<text x="1901.60" y="435.51">S87</text>
<text x="1901.60" y="530.00">S80</text>
<text x="1901.60" y="624.49">S92</text>
<text x="1901.60" y="718.98">S82</text>
<text x="1901.60" y="838.42">S94*</text>
<text x="1901.60" y="932.91">S85</text>
<text x="1901.60" y="1027.40">S95*</text>
<text x="1901.60" y="1146.84">S288*</text>
<text x="1901.60" y="1266.28">S88</text>
<text x="1901.60" y="1385.72">S83</text>
<text x="1901.60" y="1505.16">S90</text>
<text x="1901.60" y="1624.61">S81</text>
<text x="1901.60" y="1744.05">S89</text>
<text x="1901.60" y="1863.49">S96</text>
</g>
<g class="l" clip-path="url(#cl)">
<text transform="translate(51.05 1904.50) rotate(90)">S93</text>
<text transform="translate(170.48 1904.50) rotate(90)">S84</text>
<text transform="translate(289.92 1904.50) rotate(90)">S86</text>
<text transform="translate(384.41 1904.50) rotate(90)">S87</text>
<text transform="translate(478.90 1904.50) rotate(90)">S80</text>
<text transform="translate(573.39 1904.50) rotate(90)">S92</text>
<text transform="translate(667.88 1904.50) rotate(90)">S82</text>
<text transform="translate(787.33 1904.50) rotate(90)">S94</text>
<text transform="translate(881.82 1904.50) rotate(90)">S85</text>
<text transform="translate(976.31 1904.50) rotate(90)">S95</text>
<text transform="translate(1095.74 1904.50) rotate(90)">S288</text>
<text transform="translate(1215.18 1904.50) rotate(90)">S88</text>
<text transform="translate(1334.62 1904.50) rotate(90)">S83</text>
<text transform="translate(1454.07 1904.50) rotate(90)">S90</text>
<text transform="translate(1573.51 1904.50) rotate(90)">S81</text>
<text transform="translate(1692.95 1904.50) rotate(90)">S89</text>
<text transform="translate(1812.39 1904.50) rotate(90)">S96</text>
</g>
<rect x="2116.50" y="31.20" width="62.10" height="941.90" fill="url(#lg)"/>
<g class="l">
<text x="2204.00" y="998.60">0</text>
<text x="2204.00" y="797.77">100</text>
<text x="2204.00" y="596.94">200</text>
<text x="2204.00" y="396.11">300</text>
<text x="2204.00" y="195.27">400</text>
</g>
</svg>
</body></html>
